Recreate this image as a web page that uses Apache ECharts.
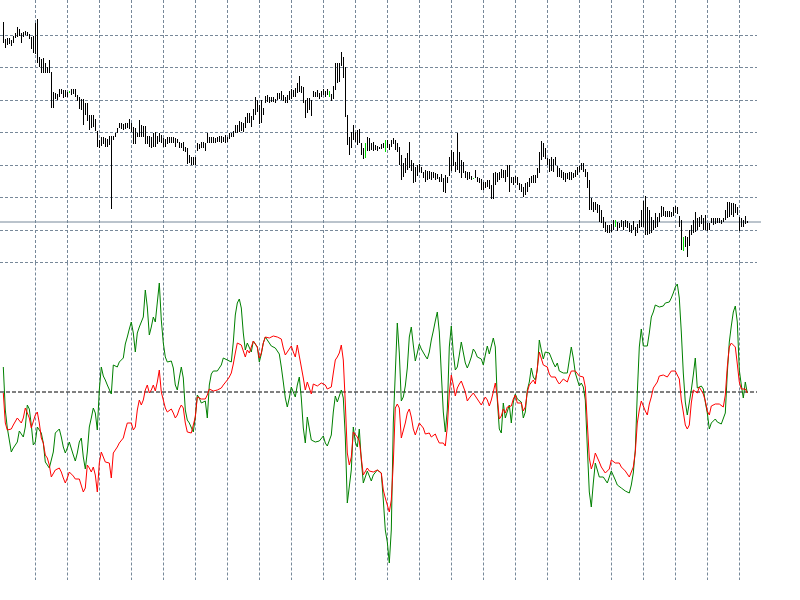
<!DOCTYPE html>
<html><head><meta charset="utf-8">
<script src="https://cdn.jsdelivr.net/npm/echarts@6/dist/echarts.min.js"></script>
<style>html,body{margin:0;padding:0;background:#fff}#c{width:800px;height:600px}</style>
</head><body><div id="c"></div>
<script>
// ---- price bars (high / low), one per bar index ----
const barHigh = [
273,256,257,257,255,259,262,268,266,262, 263,264,263,261,258,259,272,276,238,236,
237,232,228,235,223,203,202,201,206,206, 205,205,203,204,206,206,206,200,198,196,
196,192,192,180,180,180,176,164,155,158, 158,157,156,159,159,159,162,167,172,172,
171,172,172,176,172,168,167,162,175,170, 169,169,159,159,158,162,163,159,162,160,
157,156,158,158,158,158,157,156,153,152, 153,148,147,140,138,138,138,152,151,
153,153,152,162,158,158,158,157,158,159, 159,158,160,158,162,162,164,170,170,174,
173,172,178,182,182,179,186,198,195,190, 195,187,199,200,198,198,198,196,202,202,
204,200,198,200,204,206,205,207,212,219, 209,208,195,197,197,195,204,203,205,202,
204,206,204,206,204,201,209,232,232,232, 243,238,228,180,158,163,170,163,165,166,
152,147,152,158,157,152,153,150,149,148, 151,152,155,155,151,155,157,155,152,148,
140,132,137,142,153,135,132,128,130,131, 128,123,125,124,124,123,123,122,121,118,
121,117,120,118,138,145,143,133,162,143, 135,133,124,123,123,119,117,125,118,117,
116,113,113,115,115,110,122,123,122,123, 126,125,125,130,130,118,118,119,118,112,
111,108,112,113,117,119,120,120,127,143, 154,152,147,137,136,138,136,138,129,127,
125,123,122,122,123,123,122,125,128,129, 132,132,126,123,115,97,93,93,91,90,
85,78,73,70,70,71,75,75,73,72, 75,74,75,74,72,70,74,68,71,75,
85,94,99,88,85,78,75,82,78,82, 89,88,84,84,84,83,88,89,88,79,
75,58,59,58,65,70,75,83,77,78, 80,77,80,72,72,77,77,77,77,77,
75,77,85,93,93,92,92,91,88,78, 77,75,79,74
];
const barLow = [
252,247,250,251,249,252,257,258,259,252, 258,260,259,256,246,242,241,232,228,222,
222,222,222,222,187,187,196,195,198,201, 197,198,198,202,200,201,198,194,186,185,
170,180,174,165,167,168,164,148,147,149, 151,148,148,150,86,155,158,162,167,166,
165,166,167,166,163,151,151,158,158,158, 158,151,151,148,147,148,148,151,153,152,
148,148,151,152,152,152,148,152,147,147, 144,143,131,132,130,130,130,144,146,
147,147,144,152,152,152,152,152,153,153, 152,153,152,153,156,158,158,162,162,163,
164,163,167,172,172,168,175,180,183,171, 172,180,192,193,192,193,193,192,195,196,
195,194,192,192,195,196,198,198,202,203, 202,192,177,182,185,179,198,198,198,196,
198,200,198,200,198,194,196,205,212,213, 229,217,178,150,140,147,155,153,150,152,
140,136,137,144,144,145,144,145,144,146, 146,147,143,147,145,148,151,145,143,130,
115,118,122,125,127,124,112,113,119,123, 122,117,113,115,116,115,117,115,116,113,
113,103,102,112,119,124,129,123,125,122, 117,122,117,115,116,115,116,117,113,112,
105,105,107,108,106,96,96,110,113,115, 117,117,113,118,103,112,110,112,110,105,
103,98,100,103,108,112,112,112,117,122, 135,138,136,130,123,124,123,130,118,118,
117,115,113,116,115,115,117,118,120,123, 125,123,118,107,85,85,83,85,82,73,
72,67,63,62,62,63,65,68,64,67, 68,65,68,67,63,62,65,59,62,67,
68,68,60,60,61,62,65,67,68,73, 78,79,78,78,78,78,79,82,81,68,
45,44,48,38,49,60,62,63,65,68, 71,65,65,64,65,72,70,71,72,72,
71,73,75,77,78,80,78,82,80,64, 68,68,71,72
];
const dojiBars = [33,163,181,191,235,306,340];
const bidPrice = 73;

// ---- oscillator lines ----
const greenLine = [
25,-18,-36,-48,-60,-56,-53,-50,-39,-41, -45,-35,-13,-17,-33,-53,-50,-35,-36,-41,
-51,-70,-73,-76,-78,-60,-41,-41,-37,-45, -55,-61,-56,-50,-52,-63,-69,-61,-50,-46,
-65,-77,-60,-35,-26,-16,-21,-38,2,25, 16,12,7,7,-2,27,27,25,30,30,
34,48,55,63,70,59,40,59,65,64, 75,102,85,57,65,75,70,69,109,72,
49,35,30,32,31,24,7,2,14,25, 14,-18,-28,-31,-32,-40,-25,-3,-6,
-11,-11,-9,-26,7,18,21,23,21,21, 27,34,32,32,30,30,50,77,89,93,
84,59,42,49,50,40,51,52,45,30, 38,49,55,52,49,46,48,44,41,38,
25,10,-6,-15,-6,5,5,-5,7,15, -6,-36,-51,-25,-25,-48,-50,-50,-49,-49,
-47,-44,-51,-54,-54,-43,-20,-4,-10,-11, 2,-6,-45,-111,-113,-78,-35,-50,-55,-37,
-68,-91,-85,-79,-84,-89,-83,-81,-78,-79, -81,-108,-138,-150,-171,-138,-31,19,69,39,
-9,-5,6,24,55,65,47,31,39,48, 43,43,36,33,40,52,61,71,80,60,
19,-20,-40,-18,45,66,39,22,25,37, 50,50,29,24,29,35,43,40,35,35,
33,27,37,46,38,39,54,45,-8,-37, -41,-11,-26,-25,-13,-31,-10,-2,-7,-9,
-10,-26,-20,2,10,24,15,12,22,52, 42,33,40,41,39,37,29,25,29,21,
21,19,21,19,32,45,34,19,20,6, 9,5,-8,-55,-100,-115,-91,-71,-78,-85,
-87,-85,-85,-91,-91,-79,-79,-88,-93,-94, -96,-98,-99,-99,-101,-93,-81,-58,-1,45,
63,46,45,46,59,75,80,87,89,85, 85,86,89,89,90,94,99,105,108,94,
60,19,-10,-23,-25,2,17,34,4,4, 6,3,-10,-21,-37,-31,-29,-27,-30,-28,
-32,-34,-21,19,50,66,80,86,70,22, 7,-6,10,-1
];
const redLine = [
-1,-31,-38,-38,-37,-33,-31,-26,-25,-31, -26,-16,-21,-26,-36,-38,-23,-20,-31,-46,
-51,-63,-66,-73,-85,-85,-78,-80,-76,-80, -86,-91,-86,-80,-81,-84,-87,-89,-87,-88,
-100,-96,-73,-76,-80,-75,-83,-100,-71,-60, -65,-70,-70,-71,-86,-61,-60,-55,-51,-50,
-46,-38,-31,-30,-31,-38,-35,-18,-8,-13, -8,2,7,-1,2,7,1,10,22,0,
-8,-16,-20,-19,-17,-21,-26,-23,-17,-13, -16,-31,-40,-41,-41,-39,-25,-5,-6,
-7,-7,-7,-3,3,3,1,2,2,2, 4,7,9,12,15,19,28,39,49,51,
47,47,35,42,39,40,51,52,45,34, 39,49,55,54,54,54,56,55,55,57,
53,44,37,39,43,46,40,35,47,47, 25,14,2,10,12,-2,8,7,6,6,
9,11,7,3,1,5,19,32,35,39, 47,32,-11,-61,-73,-65,-40,-42,-45,-49,
-66,-83,-84,-76,-79,-79,-80,-78,-78,-77, -81,-98,-106,-113,-120,-108,-71,-16,-12,-16,
-46,-45,-31,-21,-17,-25,-37,-43,-37,-31, -33,-36,-42,-42,-41,-45,-45,-42,-47,-51,
-51,-51,-54,-35,-1,17,7,-4,4,8, 11,10,0,-9,-6,-4,-1,1,-7,-10,
-13,-9,-5,-8,-14,-8,0,9,-5,-27, -24,-17,-21,-15,-16,-14,-7,-3,-11,-10,
-11,-19,-15,0,7,7,12,8,24,40, 42,27,28,25,18,15,16,15,11,8,
9,13,11,10,16,21,21,21,20,16, 16,15,5,-31,-66,-77,-71,-61,-60,-70,
-75,-78,-81,-81,-77,-68,-67,-71,-71,-71, -75,-77,-79,-80,-85,-84,-75,-60,-31,-18,
-9,-14,-19,-23,-12,-5,4,7,10,16, 17,17,17,15,16,21,23,21,22,13,
-8,-20,-33,-37,-33,-11,2,2,-1,5, 7,-2,-9,-19,-23,-14,-13,-12,-10,-12,
-12,-15,-3,25,45,49,51,45,28,10, 3,4,3,-1
];
const levelLine = 0;

const GRIDC = '#778899';
const chart = echarts.init(document.getElementById('c'), null, {renderer: 'canvas'});

const barData = barHigh.map((h, i) => [i, h, barLow[i], dojiBars.includes(i) ? 1 : 0]);
const gData = greenLine.map((v, i) => [i, v]);
const rData = redLine.map((v, i) => [i, v]);

const hidden = {axisLine: {show: false}, axisTick: {show: false}, axisLabel: {show: false}};
function barX(gi) {
  return Object.assign({
    type: 'value', gridIndex: gi, min: 0, max: 376.85, interval: 16,
    splitLine: {show: true, showMinLine: false, showMaxLine: false,
      lineStyle: {color: GRIDC, type: [3, 2], width: 1}}
  }, hidden);
}
function fullX(gi) {
  return Object.assign({type: 'value', gridIndex: gi, min: 0, max: 1, splitLine: {show: false}}, hidden);
}

chart.setOption({
  backgroundColor: '#ffffff',
  animation: false,
  grid: [
    {left: 3.3, width: 753.7, top: 0, height: 262.5},
    {left: 3.3, width: 753.7, top: 262.5, height: 317.5},
    {left: 0, width: 757, top: 3, height: 259.5},
    {left: 0, width: 757, top: 262.5, height: 317.5},
    {left: 0, width: 761, top: 3, height: 259.5}
  ],
  xAxis: [barX(0), barX(1), fullX(2), fullX(3), fullX(4)],
  yAxis: [
    Object.assign({type: 'value', gridIndex: 0, min: 32.5, max: 295, splitLine: {show: false}}, hidden),
    Object.assign({type: 'value', gridIndex: 1, min: -188, max: 129.5, splitLine: {show: false}}, hidden),
    Object.assign({type: 'value', gridIndex: 2, min: 32.5, max: 292, interval: 32.5,
      splitLine: {show: true, showMaxLine: false, lineStyle: {color: GRIDC, type: [3, 2], width: 1}}}, hidden),
    Object.assign({type: 'value', gridIndex: 3, min: -188, max: 129.5, splitLine: {show: false}}, hidden),
    Object.assign({type: 'value', gridIndex: 4, min: 32.5, max: 292, splitLine: {show: false}}, hidden)
  ],
  series: [
    {
      type: 'line', xAxisIndex: 4, yAxisIndex: 4, silent: true,
      data: [[0, bidPrice], [1, bidPrice]], showSymbol: false, symbol: 'none',
      lineStyle: {color: GRIDC, width: 1}, z: 1
    },
    {
      type: 'line', xAxisIndex: 3, yAxisIndex: 3, silent: true,
      data: [[0, levelLine], [1, levelLine]], showSymbol: false, symbol: 'none',
      lineStyle: {color: '#000000', type: [4, 2], width: 1}, z: 1
    },
    {
      type: 'custom', xAxisIndex: 0, yAxisIndex: 0,
      data: barData,
      encode: {x: 0, y: [1, 2]},
      z: 3,
      renderItem: function (params, api) {
        const x = api.value(0);
        const p1 = api.coord([x, api.value(1)]);
        const p2 = api.coord([x, api.value(2)]);
        const px = Math.round(p1[0]) + 0.5;
        let y1 = Math.floor(p1[1]), y2 = Math.ceil(p2[1]);
        if (y2 - y1 < 1) y2 = y1 + 1;
        return {
          type: 'line',
          shape: {x1: px, y1: y1, x2: px, y2: y2},
          style: {stroke: api.value(3) ? '#00e000' : '#000000', lineWidth: 1}
        };
      }
    },
    {
      type: 'line', xAxisIndex: 1, yAxisIndex: 1, data: gData, z: 3,
      showSymbol: false, symbol: 'none',
      lineStyle: {color: '#008000', width: 1}
    },
    {
      type: 'line', xAxisIndex: 1, yAxisIndex: 1, data: rData, z: 3,
      showSymbol: false, symbol: 'none',
      lineStyle: {color: '#ff0000', width: 1}
    }
  ]
});
</script>
</body></html>
